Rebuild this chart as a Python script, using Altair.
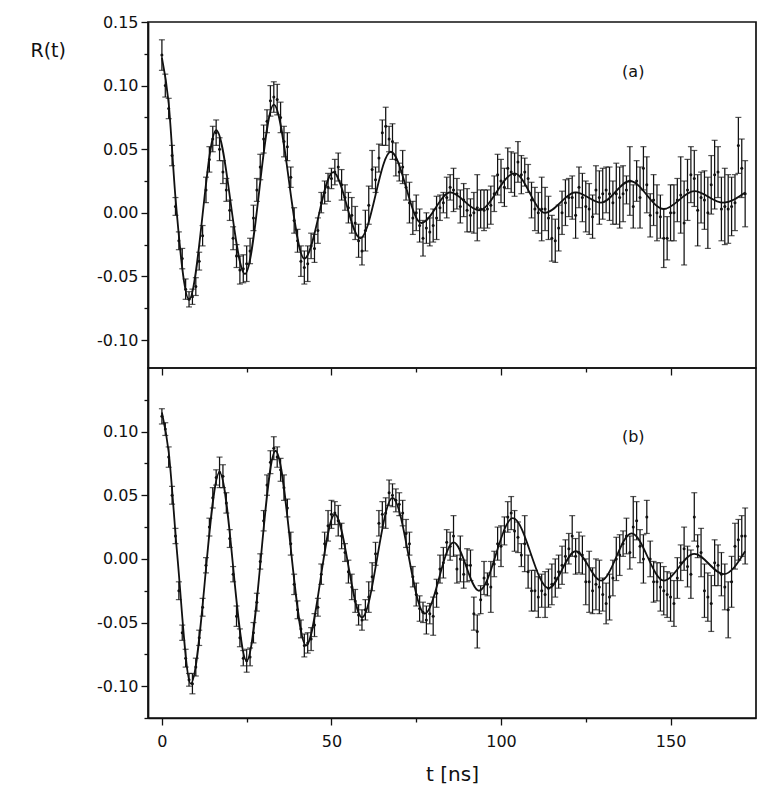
import altair as alt
import pandas as pd

# ---------------- data ----------------
t_ns = list(range(173))  # sampling grid, ~1 ns

r_a = [
    0.124, 0.100, 0.082, 0.045, 0.005, -0.022, -0.036, -0.060, -0.068, -0.066,
    -0.058, -0.038, -0.018, 0.018, 0.042, 0.058, 0.063, 0.050, 0.032, 0.018,
    0.002, -0.020, -0.034, -0.045, -0.044, -0.040, -0.030, -0.004, 0.018, 0.036,
    0.058, 0.072, 0.088, 0.091, 0.089, 0.075, 0.056, 0.052, 0.028, -0.006,
    -0.022, -0.038, -0.043, -0.040, -0.026, -0.028, -0.014, 0.008, 0.016, 0.020,
    0.027, 0.032, 0.036, 0.022, 0.012, 0.004, -0.002, -0.008, -0.022, -0.030,
    -0.014, 0.006, 0.034, 0.026, 0.043, 0.063, 0.068, 0.058, 0.056, 0.042,
    0.032, 0.036, 0.020, 0.008, -0.004, 0.000, -0.010, -0.020, -0.012, -0.015,
    -0.010, -0.004, 0.004, 0.008, 0.012, 0.020, 0.018, 0.015, 0.005, 0.010,
    0.002, -0.002, 0.000, 0.004, 0.003, 0.002, 0.003, 0.006, 0.015, 0.030,
    0.025, 0.020, 0.035, 0.032, 0.030, 0.040, 0.030, 0.032, 0.027, 0.010,
    0.003, 0.000, 0.003, 0.003, -0.004, -0.020, -0.022, -0.012, 0.000, 0.008,
    0.012, 0.012, -0.002, 0.020, 0.012, 0.005, 0.003, -0.003, 0.018, 0.012,
    0.015, 0.018, 0.015, 0.008, 0.015, 0.012, 0.015, 0.018, 0.025, 0.005,
    0.025, 0.012, 0.035, 0.022, -0.002, 0.010, 0.000, -0.003, -0.020, -0.020,
    0.000, 0.000, 0.010, 0.014, -0.008, 0.018, 0.030, 0.027, 0.002, 0.012,
    0.010, 0.000, 0.022, 0.030, 0.032, 0.003, 0.005, 0.003, 0.005, 0.008,
    0.053, 0.035, 0.015,
]
err_a = [
    0.012, 0.009, 0.008, 0.008, 0.007, 0.007, 0.008, 0.008, 0.006, 0.006,
    0.007, 0.007, 0.008, 0.010, 0.010, 0.010, 0.010, 0.009, 0.009, 0.009,
    0.008, 0.009, 0.009, 0.011, 0.011, 0.014, 0.010, 0.010, 0.009, 0.010,
    0.011, 0.009, 0.012, 0.012, 0.012, 0.012, 0.012, 0.011, 0.008, 0.010,
    0.009, 0.012, 0.013, 0.014, 0.010, 0.011, 0.010, 0.008, 0.009, 0.011,
    0.008, 0.010, 0.011, 0.012, 0.010, 0.012, 0.014, 0.013, 0.013, 0.011,
    0.016, 0.015, 0.015, 0.010, 0.011, 0.010, 0.015, 0.010, 0.014, 0.013,
    0.007, 0.013, 0.010, 0.016, 0.013, 0.014, 0.013, 0.014, 0.012, 0.011,
    0.013, 0.017, 0.010, 0.008, 0.016, 0.010, 0.017, 0.012, 0.013, 0.013,
    0.017, 0.013, 0.016, 0.026, 0.015, 0.016, 0.015, 0.015, 0.014, 0.016,
    0.017, 0.015, 0.016, 0.016, 0.017, 0.016, 0.015, 0.011, 0.011, 0.014,
    0.017, 0.016, 0.025, 0.017, 0.017, 0.018, 0.017, 0.018, 0.017, 0.018,
    0.015, 0.017, 0.018, 0.016, 0.019, 0.020, 0.020, 0.017, 0.019, 0.021,
    0.020, 0.018, 0.021, 0.017, 0.024, 0.024, 0.022, 0.011, 0.027, 0.017,
    0.016, 0.024, 0.017, 0.022, 0.017, 0.020, 0.022, 0.017, 0.023, 0.017,
    0.022, 0.022, 0.017, 0.030, 0.033, 0.024, 0.022, 0.022, 0.028, 0.020,
    0.023, 0.028, 0.023, 0.027, 0.020, 0.025, 0.030, 0.027, 0.023, 0.022,
    0.022, 0.023, 0.026,
]
r_b = [
    0.112, 0.102, 0.080, 0.050, 0.018, -0.025, -0.058, -0.078, -0.095, -0.098,
    -0.085, -0.062, -0.038, -0.005, 0.025, 0.048, 0.064, 0.068, 0.065, 0.044,
    0.016, -0.012, -0.045, -0.062, -0.078, -0.080, -0.077, -0.058, -0.034, -0.002,
    0.030, 0.058, 0.076, 0.087, 0.080, 0.070, 0.056, 0.040, 0.012, -0.020,
    -0.040, -0.055, -0.068, -0.066, -0.063, -0.052, -0.038, -0.012, 0.012, 0.026,
    0.035, 0.036, 0.030, 0.018, 0.005, -0.010, -0.022, -0.033, -0.044, -0.048,
    -0.040, -0.030, -0.014, 0.004, 0.028, 0.035, 0.036, 0.052, 0.050, 0.046,
    0.043, 0.036, 0.020, 0.012, -0.014, -0.028, -0.039, -0.042, -0.048, -0.043,
    -0.045, -0.027, -0.008, -0.003, 0.013, 0.010, 0.018, -0.008, 0.000, -0.012,
    -0.005, -0.005, -0.043, -0.057, -0.032, -0.015, -0.020, -0.022, -0.004, 0.012,
    0.010, 0.022, 0.033, 0.036, 0.022, 0.017, 0.003, 0.012, -0.010, -0.025,
    -0.025, -0.030, -0.025, -0.028, -0.023, -0.020, -0.015, -0.010, -0.005, 0.002,
    0.008, 0.018, 0.002, 0.005, 0.003, -0.018, -0.018, -0.025, -0.020, -0.022,
    -0.028, -0.035, -0.030, -0.015, 0.000, 0.003, 0.012, 0.018, 0.005, 0.025,
    0.030, 0.010, 0.000, 0.033, 0.000, -0.018, -0.018, -0.022, -0.025, -0.028,
    -0.030, -0.035, -0.015, -0.003, 0.008, -0.006, -0.012, 0.033, 0.010, 0.005,
    -0.025, -0.030, -0.035, -0.003, -0.005, -0.012, -0.022, -0.040, -0.018, 0.010,
    0.015, 0.018, 0.018,
]
err_b = [
    0.006, 0.005, 0.008, 0.007, 0.006, 0.007, 0.006, 0.007, 0.005, 0.008,
    0.007, 0.006, 0.007, 0.006, 0.007, 0.008, 0.006, 0.012, 0.009, 0.008,
    0.007, 0.006, 0.008, 0.007, 0.006, 0.009, 0.007, 0.008, 0.007, 0.006,
    0.008, 0.008, 0.009, 0.009, 0.008, 0.009, 0.010, 0.007, 0.009, 0.008,
    0.007, 0.007, 0.009, 0.008, 0.009, 0.009, 0.007, 0.008, 0.009, 0.012,
    0.011, 0.009, 0.012, 0.010, 0.007, 0.009, 0.010, 0.009, 0.008, 0.008,
    0.008, 0.012, 0.011, 0.009, 0.010, 0.010, 0.012, 0.010, 0.009, 0.009,
    0.009, 0.010, 0.011, 0.009, 0.008, 0.009, 0.010, 0.008, 0.011, 0.008,
    0.015, 0.011, 0.011, 0.012, 0.010, 0.011, 0.016, 0.011, 0.018, 0.011,
    0.013, 0.012, 0.013, 0.013, 0.011, 0.013, 0.009, 0.020, 0.010, 0.013,
    0.016, 0.011, 0.012, 0.013, 0.016, 0.012, 0.009, 0.022, 0.013, 0.016,
    0.016, 0.016, 0.013, 0.018, 0.015, 0.016, 0.015, 0.013, 0.015, 0.013,
    0.012, 0.016, 0.014, 0.016, 0.015, 0.018, 0.024, 0.018, 0.020, 0.021,
    0.013, 0.016, 0.018, 0.014, 0.017, 0.016, 0.010, 0.014, 0.013, 0.024,
    0.015, 0.013, 0.019, 0.013, 0.014, 0.016, 0.015, 0.019, 0.019, 0.018,
    0.019, 0.018, 0.016, 0.014, 0.017, 0.016, 0.019, 0.019, 0.009, 0.019,
    0.021, 0.019, 0.022, 0.018, 0.016, 0.017, 0.018, 0.022, 0.020, 0.018,
    0.016, 0.016, 0.022,
]

# fitted curves (knots)
fit_a_t = [0, 2, 4, 8, 16, 24.5, 33, 42, 50.5, 58.5, 67.5, 76.5, 85, 93.5,
           104, 113, 122, 129.5, 138, 148, 157, 165.5, 172]
fit_a_v = [0.122, 0.086, 0.012, -0.068, 0.065, -0.048, 0.085, -0.036, 0.032,
           -0.020, 0.048, -0.008, 0.016, 0.002, 0.031, 0.000, 0.016, 0.008,
           0.025, 0.003, 0.017, 0.008, 0.016]
fit_b_t = [0, 2, 4.5, 8.5, 17, 25, 33.5, 42.5, 51, 59, 68, 77.5, 86, 93.5,
           103.5, 114, 122, 129.5, 138.5, 148, 157, 165.7, 172]
fit_b_v = [0.115, 0.084, 0.004, -0.098, 0.068, -0.080, 0.085, -0.068, 0.035,
           -0.046, 0.048, -0.043, 0.013, -0.025, 0.032, -0.023, 0.006, -0.017,
           0.020, -0.017, 0.004, -0.012, 0.006]

panel_labels = ["(a)", "(b)"]
label_t = [139, 139]
label_v = [0.111, 0.096]

x_major = [0, 50, 100, 150]
x_minor = [25, 75, 125]
y_major_a = [-0.10, -0.05, 0.00, 0.05, 0.10, 0.15]
y_minor_a = [-0.075, -0.025, 0.025, 0.075, 0.125]
y_major_b = [-0.10, -0.05, 0.00, 0.05, 0.10]
y_minor_b = [-0.125, -0.075, -0.025, 0.025, 0.075, 0.125]

INK = "#111111"
FONT = "DejaVu Sans"
Y_LABEL = "(datum.value < 0 ? '-' : '') + format(abs(datum.value), '.2f')"


def make_df(r, e):
    return pd.DataFrame({
        "t": t_ns,
        "v": r,
        "lo": [a - b for a, b in zip(r, e)],
        "hi": [a + b for a, b in zip(r, e)],
    })


def panel(r, e, ft, fv, lab_i, ydom, ymaj, ymin, top, h):
    df = make_df(r, e)
    fdf = pd.DataFrame({"t": ft, "v": fv})
    ldf = pd.DataFrame({"t": [label_t[lab_i]], "v": [label_v[lab_i]],
                        "s": [panel_labels[lab_i]]})
    xs = alt.Scale(domain=[-4.1, 175.2], nice=False, zero=False)
    ys = alt.Scale(domain=ydom, nice=False, zero=False)

    if top:
        xa_major = alt.Axis(values=x_major, labels=False, tickSize=7,
                            title=None, orient="bottom", domain=False)
        ya_major = alt.Axis(values=ymaj, labelExpr=Y_LABEL, tickSize=7,
                            labelPadding=3, title="R(t)", titleAngle=0,
                            titleAlign="left", titleBaseline="middle",
                            titleX=-118, titleY=28, titleFontSize=19,
                            titleFontWeight="normal", titleFont=FONT,
                            titleColor=INK, orient="left")
    else:
        xa_major = alt.Axis(values=x_major, format="d", tickSize=7,
                            labelPadding=8, title="t [ns]", titleFontSize=20,
                            titleFontWeight="normal", titleFont=FONT,
                            titleColor=INK, titlePadding=15, orient="bottom")
        ya_major = alt.Axis(values=ymaj, labelExpr=Y_LABEL, tickSize=7,
                            labelPadding=3, title=None, orient="left")
    xa_minor = alt.Axis(values=x_minor, labels=False, tickSize=4, title=None,
                        domain=False, orient="bottom")
    ya_minor = alt.Axis(values=ymin, labels=False, tickSize=4, title=None,
                        domain=False, orient="left")

    base = alt.Chart(df)
    rules = base.mark_rule(color=INK, strokeWidth=1.25).encode(
        x=alt.X("t:Q", scale=xs, axis=xa_major),
        y=alt.Y("lo:Q", scale=ys, axis=ya_major),
        y2="hi:Q",
    )
    cap_lo = base.mark_tick(orient="horizontal", size=6, thickness=1.2,
                            color=INK).encode(
        x=alt.X("t:Q", scale=xs, axis=None),
        y=alt.Y("lo:Q", scale=ys, axis=None),
    )
    cap_hi = base.mark_tick(orient="horizontal", size=6, thickness=1.2,
                            color=INK).encode(
        x=alt.X("t:Q", scale=xs, axis=None),
        y=alt.Y("hi:Q", scale=ys, axis=None),
    )
    fit = alt.Chart(fdf).mark_line(interpolate="monotone", color=INK,
                                   strokeWidth=1.8).encode(
        x=alt.X("t:Q", scale=xs, axis=xa_minor),
        y=alt.Y("v:Q", scale=ys, axis=ya_minor),
    )
    pts = base.mark_circle(size=9, color=INK, opacity=1).encode(
        x=alt.X("t:Q", scale=xs, axis=None),
        y=alt.Y("v:Q", scale=ys, axis=None),
    )
    lab = alt.Chart(ldf).mark_text(font=FONT, fontSize=16, color=INK,
                                   align="center", baseline="middle").encode(
        x=alt.X("t:Q", scale=xs, axis=None),
        y=alt.Y("v:Q", scale=ys, axis=None),
        text="s:N",
    )
    return alt.layer(rules, cap_lo, cap_hi, fit, pts, lab).resolve_axis(
        x="independent", y="independent"
    ).properties(width=608, height=h)


top_panel = panel(r_a, err_a, fit_a_t, fit_a_v, 0, [-0.122, 0.15],
                  y_major_a, y_minor_a, True, 346)
bottom_panel = panel(r_b, err_b, fit_b_t, fit_b_v, 1, [-0.125, 0.15],
                     y_major_b, y_minor_b, False, 350)

chart = alt.vconcat(top_panel, bottom_panel, spacing=0, bounds="flush").properties(
    padding={"left": 21, "top": 5, "right": 10, "bottom": 5},
    background="white",
).configure_view(
    stroke=INK, strokeWidth=1.7
).configure_axis(
    labelFont=FONT, labelFontSize=16, labelColor=INK,
    domainColor=INK, domainWidth=1.7, tickColor=INK, tickWidth=1.3,
    grid=False,
)

chart.save("out.html", embed_options={"renderer": "svg", "actions": False})
